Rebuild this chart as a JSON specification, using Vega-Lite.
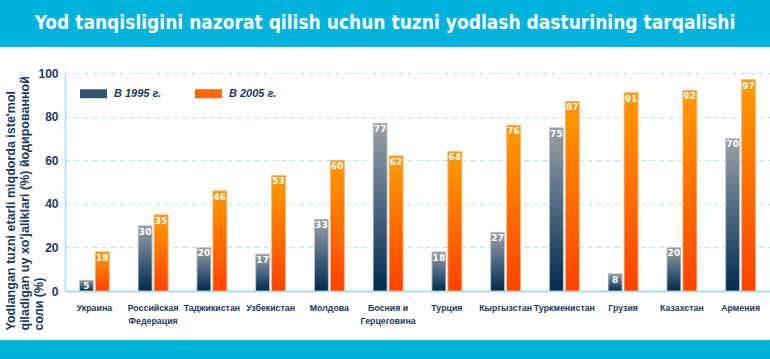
{
  "$schema": "https://vega.github.io/schema/vega-lite/v6.json",
  "padding": 0,
  "spacing": 0,
  "columns": 1,
  "align": "none",
  "background": "white",
  "config": {"view": {"stroke": null}},
  "resolve": {"scale": {"color": "independent"}, "legend": {"color": "independent"}},
  "concat": [
    {
      "width": 770,
      "height": 47,
      "view": {"fill": "#00b3da", "stroke": null},
      "data": {"values": [{"t": "Yod tanqisligini nazorat qilish uchun tuzni yodlash dasturining tarqalishi"}]},
      "mark": {"type": "text", "color": "white", "font": "DejaVu Sans Condensed, sans-serif", "fontSize": 19, "fontWeight": "bold", "baseline": "middle", "align": "center", "dy": -1},
      "encoding": {"text": {"field": "t"}}
    },
    {
      "width": 770,
      "height": 218,
      "title": {"text": " ", "fontSize": 6, "offset": 14},
      "data": {"values": [
        {"country": "Украина", "year": "В 1995 г.", "value": 5},
        {"country": "Украина", "year": "В 2005 г.", "value": 18},
        {"country": "Российская Федерация", "year": "В 1995 г.", "value": 30},
        {"country": "Российская Федерация", "year": "В 2005 г.", "value": 35},
        {"country": "Таджикистан", "year": "В 1995 г.", "value": 20},
        {"country": "Таджикистан", "year": "В 2005 г.", "value": 46},
        {"country": "Узбекистан", "year": "В 1995 г.", "value": 17},
        {"country": "Узбекистан", "year": "В 2005 г.", "value": 53},
        {"country": "Молдова", "year": "В 1995 г.", "value": 33},
        {"country": "Молдова", "year": "В 2005 г.", "value": 60},
        {"country": "Босния и Герцеговина", "year": "В 1995 г.", "value": 77},
        {"country": "Босния и Герцеговина", "year": "В 2005 г.", "value": 62},
        {"country": "Турция", "year": "В 1995 г.", "value": 18},
        {"country": "Турция", "year": "В 2005 г.", "value": 64},
        {"country": "Кыргызстан", "year": "В 1995 г.", "value": 27},
        {"country": "Кыргызстан", "year": "В 2005 г.", "value": 76},
        {"country": "Туркменистан", "year": "В 1995 г.", "value": 75},
        {"country": "Туркменистан", "year": "В 2005 г.", "value": 87},
        {"country": "Грузия", "year": "В 1995 г.", "value": 8},
        {"country": "Грузия", "year": "В 2005 г.", "value": 91},
        {"country": "Казахстан", "year": "В 1995 г.", "value": 20},
        {"country": "Казахстан", "year": "В 2005 г.", "value": 92},
        {"country": "Армения", "year": "В 1995 г.", "value": 70},
        {"country": "Армения", "year": "В 2005 г.", "value": 97}
      ]},
      "encoding": {
        "x": {
          "field": "country", "type": "nominal", "sort": null,
          "scale": {"range": [65, 770], "paddingInner": 0.49, "paddingOuter": 0.245},
          "axis": {
            "title": " ", "titleFontSize": 6, "titlePadding": 9,
            "labelAngle": 0, "labelFont": "Liberation Sans", "labelFontSize": 8.8, "labelFontWeight": "bold",
            "labelColor": "#1c3a5e", "labelPadding": 12, "labelOverlap": false, "labelBound": false, "labelBaseline": "top",
            "labelLineHeight": 13, "ticks": false, "domainColor": "#a6def0", "domainWidth": 2,
            "labelExpr": "datum.label == 'Российская Федерация' ? ['Российская', 'Федерация'] : datum.label == 'Босния и Герцеговина' ? ['Босния и', 'Герцеговина'] : datum.label"
          }
        },
        "xOffset": {"field": "year", "type": "nominal", "scale": {"paddingInner": 0.125}},
        "y": {
          "field": "value", "type": "quantitative",
          "scale": {"domain": [0, 100]},
          "axis": {
            "offset": -65,
            "values": [0, 20, 40, 60, 80, 100],
            "title": ["Yodlangan tuzni etarli miqdorda iste'mol", "qiladigan uy xo'jaliklari (%) йодированной", "соли (%)"],
            "titleX": -61, "titleY": 257, "titleAngle": 270, "titleAlign": "left", "titleBaseline": "top",
            "titleFont": "Liberation Sans", "titleFontSize": 12.5, "titleFontWeight": "bold", "titleColor": "#1c3a5e", "titleLineHeight": 14,
            "labelFont": "Liberation Sans", "labelFontSize": 12, "labelFontWeight": "bold", "labelColor": "#1c3a5e", "labelPadding": 7,
            "ticks": false, "domainColor": "#a6def0", "domainWidth": 1.5,
            "gridColor": "#b8e6f3", "gridDash": [5, 4], "gridWidth": 1
          }
        }
      },
      "layer": [
        {
          "mark": {"type": "bar"},
          "encoding": {
            "color": {
              "field": "year", "type": "nominal",
              "scale": {"range": ["#35546f", "#ff6a00"]},
              "legend": {
                "title": null, "orient": "none", "legendX": 80, "legendY": 7, "direction": "horizontal", "padding": 0,
                "symbolType": "M-1,-0.333H1V0.333H-1Z", "symbolSize": 729, "symbolStrokeWidth": 0, "symbolOpacity": 1,
                "labelFont": "Liberation Sans", "labelFontSize": 11, "labelFontStyle": "italic", "labelFontWeight": "bold",
                "labelColor": "#1c3a5e", "labelOffset": 7, "columnPadding": 33
              }
            }
          }
        },
        {
          "transform": [{"filter": "datum.year == 'В 1995 г.'"}],
          "mark": {"type": "bar", "stroke": "#dcdcdc", "strokeWidth": 0.8,
            "color": {"gradient": "linear", "x1": 0, "y1": 0, "x2": 0, "y2": 1, "stops": [{"offset": 0, "color": "#9ca0a4"}, {"offset": 0.5, "color": "#4b6781"}, {"offset": 1, "color": "#002a50"}]}}
        },
        {
          "transform": [{"filter": "datum.year == 'В 2005 г.'"}],
          "mark": {"type": "bar", "stroke": "#f0c8a0", "strokeWidth": 0.8,
            "color": {"gradient": "linear", "x1": 0, "y1": 0, "x2": 0, "y2": 1, "stops": [{"offset": 0, "color": "#ff9c00"}, {"offset": 1, "color": "#ff4200"}]}}
        },
        {
          "mark": {"type": "text", "baseline": "top", "dy": 2, "color": "white", "font": "DejaVu Sans", "fontWeight": "bold", "fontSize": 9},
          "encoding": {"text": {"field": "value", "type": "quantitative"}}
        }
      ]
    },
    {
      "width": 770,
      "height": 19,
      "view": {"fill": "#00b3da", "stroke": null},
      "data": {"values": [{"t": ""}]},
      "mark": {"type": "text"},
      "encoding": {"text": {"field": "t"}}
    }
  ]
}
